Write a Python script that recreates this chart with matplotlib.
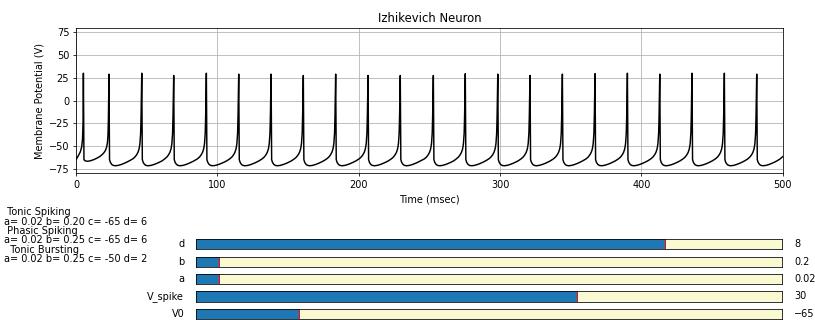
import matplotlib
matplotlib.use('Agg')
import matplotlib.pyplot as plt

# membrane trace (msec, mV)
start_t = [0.0, 1.5, 3.0, 4.0, 4.6, 5.0]
start_v = [-65.0, -61.0, -56.5, -51.0, -42.0, -22.0]

spike_t = [5.2, 23.3, 46.5, 69.1, 92.2, 115.1, 138.0, 160.8, 183.7, 206.6, 229.4,
           252.8, 275.4, 298.4, 321.2, 344.1, 367.2, 390.1, 413.0, 435.8, 458.7, 481.6]
spike_peak = [30, 29, 30, 27.5, 30, 29, 29, 27.5, 29, 27.5, 27.5,
              27.5, 29.5, 29, 27.5, 29, 29.5, 30, 29, 30, 30, 29]

# first interval: shallower after-spike dip
first_decay_dt = [0.4, 1.3, 2.8, 4.8, 7.3, 9.8]
first_decay_v = [-65.0, -66.3, -66.8, -66.3, -65.0, -63.2]
first_rise_dt = [-6.3, -4.7, -3.5, -2.5, -1.7, -1.1, -0.7, -0.4]
first_rise_v = [-61.3, -59.3, -57.2, -54.8, -51.5, -46.5, -38.0, -20.0]

# steady cycles: after a spike / before the next one
decay_dt = [0.4, 1.0, 2.0, 3.0, 4.5, 6.5, 8.5, 10.5, 12.5, 14.5]
decay_v = [-65.0, -68.0, -70.3, -71.3, -71.7, -71.3, -70.4, -69.2, -67.8, -66.2]
rise_dt = [-6.4, -4.9, -3.7, -2.7, -1.9, -1.3, -0.8, -0.5]
rise_v = [-64.2, -62.2, -59.8, -57.0, -53.2, -47.5, -36.0, -18.0]

tail_t = [498.1, 500.0]
tail_v = [-64.2, -61.7]

# slider widgets
slider_names = ['d', 'b', 'a', 'V_spike', 'V0']
slider_vals = [8, 0.2, 0.02, 30, -65]
slider_min = [0, 0, 0, -100, -100]
slider_max = [10, 5, 0.5, 100, 100]
slider_text = ['8', '0.2', '0.02', '30', '\u221265']

# neuron presets
preset_names = [' Tonic Spiking', ' Phasic Spiking', '  Tonic Bursting']
preset_a = [0.02, 0.02, 0.02]
preset_b = [0.20, 0.25, 0.25]
preset_c = [-65, -65, -50]
preset_d = [6, 6, 2]

t = list(start_t)
v = list(start_v)
t.append(spike_t[0])
v.append(spike_peak[0])
for i in range(len(spike_t) - 1):
    if i == 0:
        ddt, dv, rdt, rv = first_decay_dt, first_decay_v, first_rise_dt, first_rise_v
    else:
        ddt, dv, rdt, rv = decay_dt, decay_v, rise_dt, rise_v
    for a, b in zip(ddt, dv):
        t.append(spike_t[i] + a)
        v.append(b)
    for a, b in zip(rdt, rv):
        t.append(spike_t[i + 1] + a)
        v.append(b)
    t.append(spike_t[i + 1])
    v.append(spike_peak[i + 1])
for a, b in zip(decay_dt, decay_v):
    t.append(spike_t[-1] + a)
    v.append(b)
t += tail_t
v += tail_v

fig = plt.figure(figsize=(815 / 70, 320 / 70), dpi=70)

ax = fig.add_axes([0.0933, 0.4584, 0.8671, 0.455])
ax.plot(t, v, color='k')
ax.set_xlim(0, 500)
ax.set_ylim(-80, 80)
ax.set_yticks([-75, -50, -25, 0, 25, 50, 75])
ax.grid(True)
ax.set_title('Izhikevich Neuron')
ax.set_xlabel('Time (msec)')
ax.set_ylabel('Membrane Potential (V)')

# sliders drawn like the old matplotlib Slider
slider_bottom = [0.2209, 0.1656, 0.1116, 0.0572, 0.0025]
for i in range(len(slider_names)):
    sax = fig.add_axes([0.2405, slider_bottom[i], 0.7194, 0.0325],
                       facecolor='lightgoldenrodyellow')
    sax.set_xlim(slider_min[i], slider_max[i])
    sax.set_ylim(0, 1)
    sax.set_xticks([])
    sax.set_yticks([])
    sax.axvspan(slider_min[i], slider_vals[i], 0, 1)
    sax.axvline(slider_vals[i], 0, 1, color='r', lw=1)
    sax.text(-0.02, 0.5, slider_names[i], transform=sax.transAxes,
             ha='right', va='center')
    sax.text(1.02, 0.5, slider_text[i], transform=sax.transAxes,
             ha='left', va='center')

preset_y = [0.3228, 0.2640, 0.2053]
for i in range(len(preset_names)):
    label = '%s\na= %.2f b= %.2f c= %d d= %d' % (
        preset_names[i], preset_a[i], preset_b[i], preset_c[i], preset_d[i])
    fig.text(0.0055, preset_y[i], label, ha='left', va='center', linespacing=0.95)

fig.savefig('out.png', dpi=70)
